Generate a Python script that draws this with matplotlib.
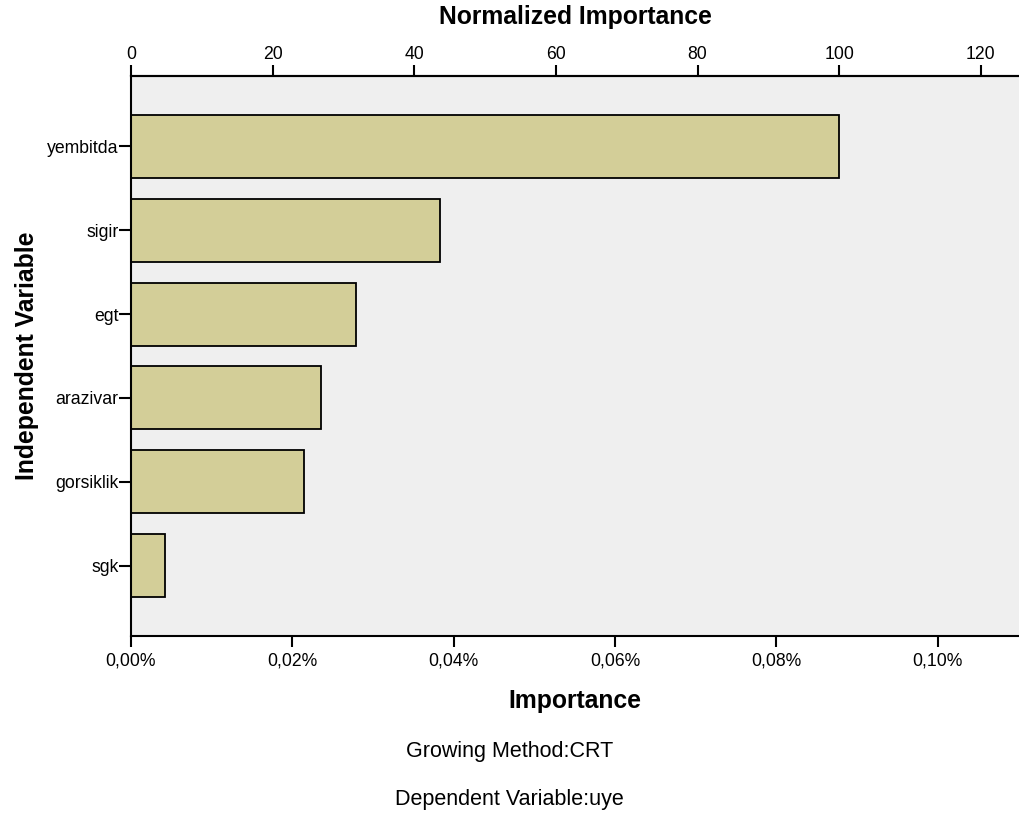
import matplotlib
matplotlib.use("Agg")
import matplotlib.pyplot as plt
from matplotlib.ticker import FuncFormatter

plt.rcParams['font.family'] = ['Liberation Sans', 'DejaVu Sans']

# importance values in percent
variables = ['yembitda', 'sigir', 'egt', 'arazivar', 'gorsiklik', 'sgk']
importance = [0.0878, 0.0383, 0.0279, 0.0235, 0.0214, 0.00427]
bottom_ticks = [0.00, 0.02, 0.04, 0.06, 0.08, 0.10]
top_ticks = [0, 20, 40, 60, 80, 100, 120]

max_imp = max(importance)
x_max = 0.1101

fig = plt.figure(figsize=(10.19, 8.16), dpi=100)
ax = fig.add_axes([131 / 1019, 1 - 636 / 816, 1 - 131 / 1019, (636 - 76) / 816])
ax.set_facecolor('#efefef')

ypos = list(range(len(variables)))
ax.barh(ypos, importance, height=0.75, color='#d3ce98', edgecolor='black', linewidth=1.3, zorder=2)

ax.set_xlim(0, x_max)
ax.set_ylim(len(variables) - 1 + 0.84, -0.84)
ax.set_yticks(ypos)
ax.set_yticklabels(variables)

ax.set_xticks(bottom_ticks)
ax.xaxis.set_major_formatter(FuncFormatter(lambda v, p: f'{v:.2f}%'.replace('.', ',')))

for s in ['left', 'top', 'bottom']:
    ax.spines[s].set_linewidth(1.5)
ax.spines['right'].set_visible(False)

ax.tick_params(axis='x', length=8, width=1.5, labelsize=12.7, pad=4)
ax.tick_params(axis='y', length=8.5, width=1.5, labelsize=12.7, pad=0.5)

# normalized importance on top
top = ax.secondary_xaxis('top', functions=(lambda v: v / max_imp * 100, lambda v: v * max_imp / 100))
top.set_xticks(top_ticks)
top.spines['top'].set_linewidth(1.5)
top.tick_params(length=8, width=1.5, labelsize=12.7, pad=1)
top.set_xlabel('Normalized Importance', fontsize=17.8, fontweight='bold', labelpad=16)

ax.set_xlabel('Importance', fontsize=17.8, fontweight='bold', labelpad=14)
ax.set_ylabel('Independent Variable', fontsize=17.8, fontweight='bold', labelpad=6)

fig.text(0.5, 1 - 752 / 816, 'Growing Method:CRT', ha='center', va='center', fontsize=15.5)
fig.text(0.5, 1 - 800 / 816, 'Dependent Variable:uye', ha='center', va='center', fontsize=15.5)

fig.savefig('out.png', dpi=100)
